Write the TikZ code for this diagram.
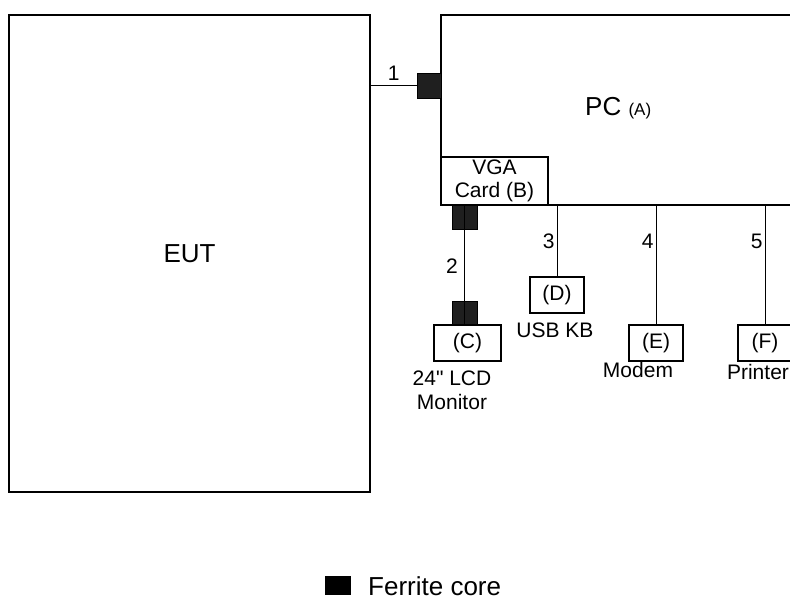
\documentclass[tikz,border=0pt]{standalone}
\usepackage{fontspec}
\setmainfont{Liberation Sans}
\usetikzlibrary{positioning}

\begin{document}
\begin{tikzpicture}[
    x=1pt, y=-1pt,
    box/.style={draw, line width=1.5pt, inner sep=0pt, align=center},
    ferrite/.style={draw=black, fill=black!88, line width=0.8pt, inner sep=0pt},
    cable/.style={line width=0.9pt},
    lbl/.style={font=\fontsize{21}{23}\selectfont, align=center, inner sep=0pt},
    big/.style={font=\fontsize{26}{30}\selectfont, inner sep=0pt}
]
    \useasboundingbox (0,0) rectangle (790,600);
    \clip (0,0) rectangle (790,600);

    % Main units
    \node[box, big, minimum width=361pt, minimum height=477pt] (eut) at (189.5,253.5) {EUT};
    \node[box, minimum width=400pt, minimum height=190pt] (pc) at (641,110) {};
    \node[big, anchor=west] (pclbl) at (585,108) {PC {\fontsize{17}{20}\selectfont(A)}};
    \node[box, lbl, fill=white, minimum width=107pt, minimum height=48pt] (vga) at (494.5,181) {VGA\\[0pt]Card (B)};

    % Ferrite cores
    \node[ferrite, minimum width=24pt, minimum height=25pt] (fer1) at (429,85.5) {};
    \node[ferrite, minimum width=25pt, minimum height=24pt] (fer2) at (464.5,217) {};
    \node[ferrite, minimum width=25pt, minimum height=24pt] (fer3) at (464.5,313) {};

    % Peripherals
    \node[box, lbl, minimum width=67pt, minimum height=36pt] (mon) at (467.5,343) {(C)};
    \node[box, lbl, minimum width=54pt, minimum height=36pt] (kb) at (557,295) {(D)};
    \node[box, lbl, minimum width=54pt, minimum height=36pt] (modem) at (656,343) {(E)};
    \node[box, lbl, minimum width=54pt, minimum height=36pt] (prn) at (765,343) {(F)};

    \node[lbl] (monlbl) at (452,390) {24\textquotedbl{} LCD\\[1pt]Monitor};
    \node[lbl] (kblbl) at (555,330) {USB KB};
    \node[lbl] (modemlbl) at (638,370) {Modem};
    \node[lbl] (prnlbl) at (758,372) {Printer};

    % Cables
    \draw[cable] (eut.east |- fer1) -- (fer1.west) node[lbl, midway, above=5pt] {1};
    \draw[cable] (fer2.north) -- (fer3.south);
    \node[lbl] (c2) at (452,266) {2};
    \draw[cable] (pc.south -| kb) -- (kb.north) node[lbl, pos=0.5, left=2pt] {3};
    \draw[cable] (pc.south -| modem) -- (modem.north) node[lbl, pos=0.3, left=2pt] {4};
    \draw[cable] (pc.south -| prn) -- (prn.north) node[lbl, pos=0.3, left=2pt] {5};

    % Legend
    \node[fill=black, minimum width=26pt, minimum height=19pt, inner sep=0pt] (key) at (338,585.5) {};
    \node[big, anchor=base west] (keylbl) at (368,595) {Ferrite core};

\end{tikzpicture}
\end{document}
